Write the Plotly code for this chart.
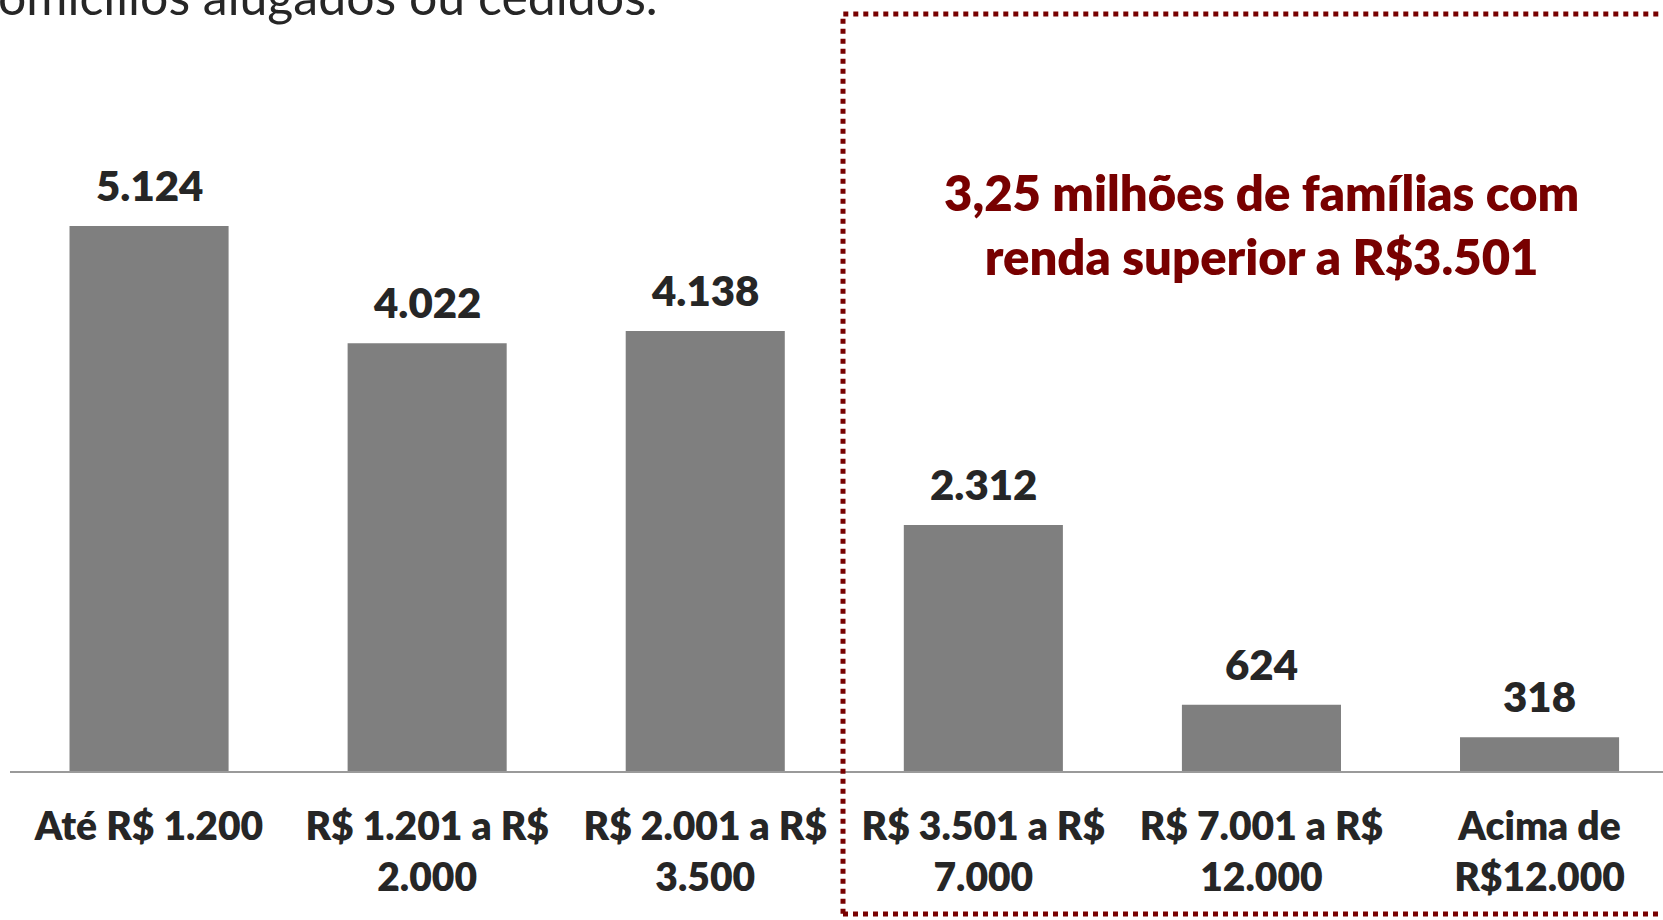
import plotly.graph_objects as go

categories = ["Até R$ 1.200", "R$ 1.201 a R$<br>2.000", "R$ 2.001 a R$<br>3.500",
              "R$ 3.501 a R$<br>7.000", "R$ 7.001 a R$<br>12.000", "Acima de<br>R$12.000"]
values = [5124, 4022, 4138, 2312, 624, 318]
title_text = "domicílios alugados ou cedidos."
highlight_text = "3,25 milhões de famílias com<br>renda superior a R$3.501"

FONT = "Lato, Carlito, Calibri, sans-serif"
DARK = "#262626"
RED = "#780000"

W, H = 1663, 920
ML, MT, MB = 10, 0, 149
plot_w = W - ML
plot_h = H - MT - MB
cat_px = 278.1

def fmt(v):
    return f"{v:,}".replace(",", ".")

fig = go.Figure()
fig.add_trace(go.Bar(
    x=categories, y=values, marker=dict(color="#7f7f7f", line=dict(width=0)),
    hoverinfo="skip", showlegend=False,
))

annotations = []
for c, v in zip(categories, values):
    annotations.append(dict(
        x=c, y=v, xref="x", yref="y", text=fmt(v), showarrow=False,
        yanchor="bottom", yshift=14, font=dict(family=FONT, size=42, color=DARK, weight=800),
    ))

annotations.append(dict(
    x=categories[4], y=1 - 224 / plot_h, xref="x", yref="paper", text=highlight_text,
    showarrow=False, yanchor="middle", xanchor="center",
    font=dict(family=FONT, size=49, color=RED, weight=800),
))

annotations.append(dict(
    x=(660 - ML) / plot_w, y=1 + 4 / plot_h, xref="paper", yref="paper", text=title_text,
    showarrow=False, yanchor="middle", xanchor="right",
    font=dict(family=FONT, size=50, color=DARK),
))

fig.update_layout(
    width=W, height=H, margin=dict(l=ML, r=0, t=MT, b=MB, pad=0, autoexpand=False),
    paper_bgcolor="white", plot_bgcolor="white",
    bargap=0.428,
    font=dict(family=FONT, color=DARK),
    xaxis=dict(
        range=[-0.5, -0.5 + plot_w / cat_px], showline=True, linecolor="#9a9a9a", linewidth=2,
        showgrid=False, zeroline=False, ticks="", ticklabelstandoff=20, automargin=False,
        tickfont=dict(family=FONT, size=39, color=DARK, weight=800),
    ),
    yaxis=dict(range=[0, plot_h / 0.10636], visible=False, showgrid=False, zeroline=False,
               automargin=False),
    annotations=annotations,
    shapes=[dict(
        type="rect", xref="paper", yref="paper",
        x0=(843 - ML) / plot_w, x1=1.05,
        y0=-(914 - plot_h) / plot_h, y1=1 - 14 / plot_h,
        line=dict(color=RED, width=5, dash="dot"), fillcolor="rgba(0,0,0,0)",
    )],
)

fig.write_html("out.html", config={"displayModeBar": False},
               post_script="document.body.style.margin='0';document.body.style.overflow='hidden';")
